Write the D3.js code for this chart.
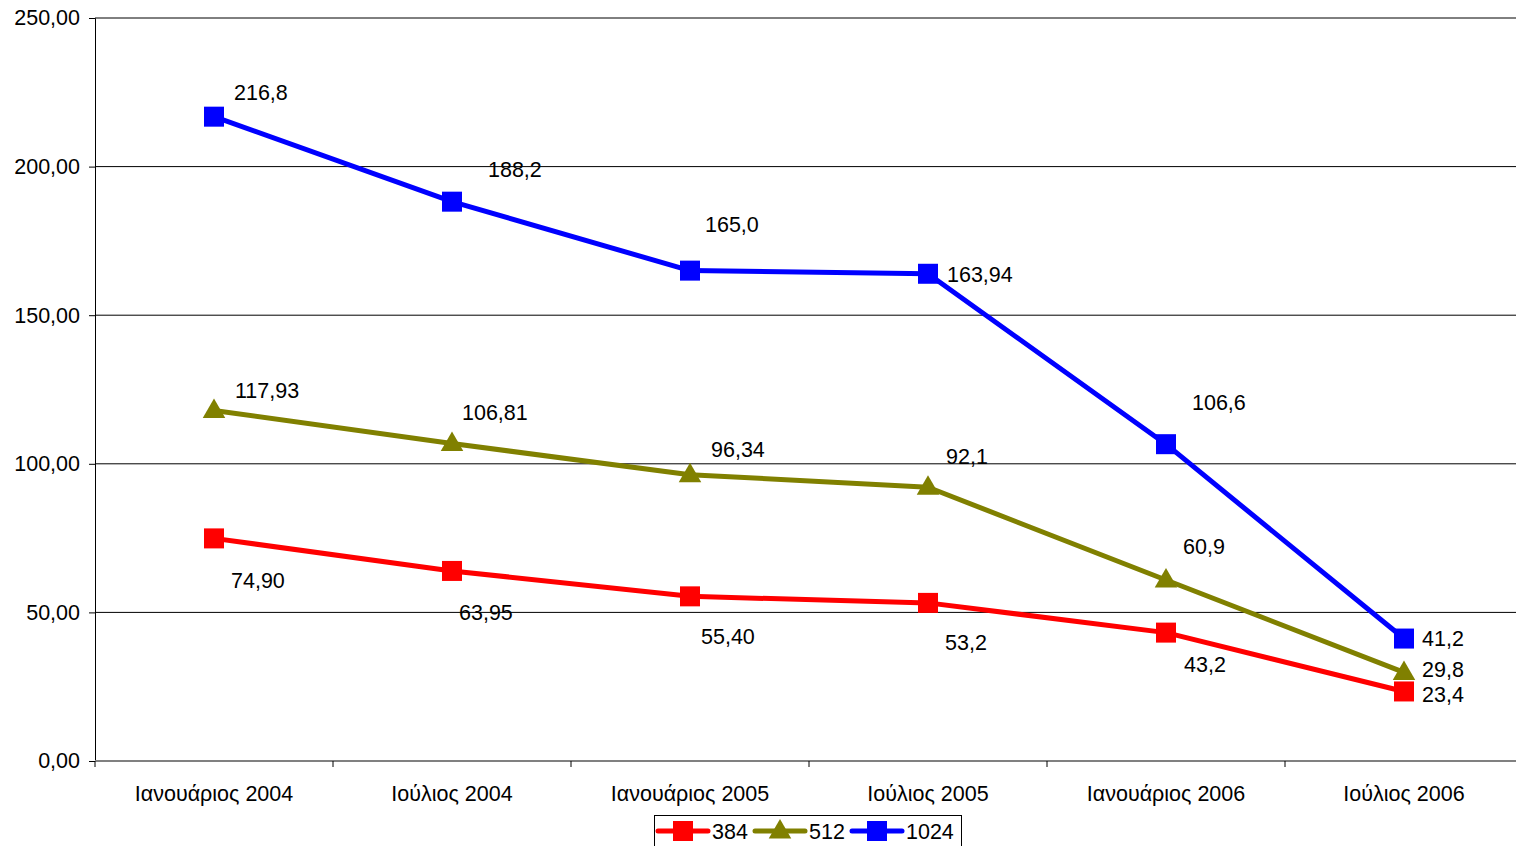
<!DOCTYPE html>
<html>
<head>
<meta charset="utf-8">
<script src="https://cdn.jsdelivr.net/npm/d3@7"></script>
<style>
  html, body { margin: 0; padding: 0; background: #fff; }
  svg { display: block; font-family: "Liberation Sans", Arial, sans-serif; }
</style>
</head>
<body>
<svg id="chart" width="1516" height="846"></svg>
<script>
// Periods on the category axis
const categories = ["Ιανουάριος 2004", "Ιούλιος 2004", "Ιανουάριος 2005", "Ιούλιος 2005", "Ιανουάριος 2006", "Ιούλιος 2006"];

// Series values (one per period)
const values384  = [74.90, 63.95, 55.40, 53.2, 43.2, 23.4];
const values512  = [117.93, 106.81, 96.34, 92.1, 60.9, 29.8];
const values1024 = [216.8, 188.2, 165.0, 163.94, 106.6, 41.2];

// Printed data labels
const labels384  = ["74,90", "63,95", "55,40", "53,2", "43,2", "23,4"];
const labels512  = ["117,93", "106,81", "96,34", "92,1", "60,9", "29,8"];
const labels1024 = ["216,8", "188,2", "165,0", "163,94", "106,6", "41,2"];

// Y axis ticks
const yTicks = [0, 50, 100, 150, 200, 250];

// Label placement offsets relative to each marker (layout only)
const offsets384  = [[17, 42], [7, 41], [11, 40], [17, 39], [18, 32], [18, 3]];
const offsets512  = [[21, -20], [10, -31], [21, -25], [18, -31], [17, -34], [18, -3]];
const offsets1024 = [[20, -24], [36, -32], [15, -46], [19, 0], [26, -42], [18, 0]];

const series = [
  { name: "384",  values: values384,  labels: labels384,  offsets: offsets384,  color: "#ff0000", marker: "square" },
  { name: "512",  values: values512,  labels: labels512,  offsets: offsets512,  color: "#808000", marker: "triangle" },
  { name: "1024", values: values1024, labels: labels1024, offsets: offsets1024, color: "#0000ff", marker: "square" }
];

const FONT = 21.5;
const svg = d3.select("#chart");
const plot = { left: 95, right: 1523, top: 18, bottom: 761 };

const x = d3.scaleBand().domain(categories).range([plot.left, plot.right]);
const y = d3.scaleLinear().domain([0, 250]).range([plot.bottom, plot.top]);
const fmt = d => d3.format(".2f")(d).replace(".", ",");
const cx = c => x(c) + x.bandwidth() / 2;

// Horizontal gridlines
svg.append("g").selectAll("line").data(yTicks.filter(t => t > 0)).join("line")
  .attr("x1", plot.left).attr("x2", plot.right)
  .attr("y1", d => y(d)).attr("y2", d => y(d))
  .attr("stroke", "#000").attr("stroke-width", 1);

// Y axis
const yAxis = svg.append("g").attr("transform", `translate(${plot.left},0)`)
  .call(d3.axisLeft(y).tickValues(yTicks).tickFormat(fmt).tickSize(6).tickPadding(9));
yAxis.select(".domain").attr("stroke", "#000");
yAxis.selectAll(".tick line").attr("stroke", "#000");
yAxis.selectAll(".tick text").attr("font-size", FONT).attr("fill", "#000")
  .attr("font-family", "'Liberation Sans', Arial, sans-serif");

// X axis with tick marks at category boundaries
const xAxisG = svg.append("g").attr("transform", `translate(0,${plot.bottom})`);
xAxisG.append("line").attr("x1", plot.left).attr("x2", plot.right)
  .attr("stroke", "#808080").attr("stroke-width", 2);
xAxisG.selectAll("line.tk").data(categories).join("line").attr("class", "tk")
  .attr("x1", d => x(d)).attr("x2", d => x(d)).attr("y1", 0).attr("y2", 6)
  .attr("stroke", "#000");
xAxisG.selectAll("text").data(categories).join("text")
  .attr("x", d => cx(d)).attr("y", 40)
  .attr("text-anchor", "middle").attr("font-size", FONT).attr("fill", "#000")
  .text(d => d);

// Lines, markers and data labels
const line = d3.line().x((d, i) => cx(categories[i])).y(d => y(d));
const tri = d3.symbol().type(d3.symbolTriangle).size(220);

function drawMarker(g, type, color, px, py) {
  if (type === "square") {
    g.append("rect").attr("x", px - 10).attr("y", py - 10).attr("width", 20).attr("height", 20).attr("fill", color);
  } else {
    g.append("path").attr("d", tri).attr("transform", `translate(${px},${py + 1})`).attr("fill", color);
  }
}

series.forEach(s => {
  svg.append("path").datum(s.values).attr("d", line)
    .attr("fill", "none").attr("stroke", s.color).attr("stroke-width", 5).attr("stroke-linejoin", "round");
});
series.forEach(s => {
  const g = svg.append("g");
  s.values.forEach((v, i) => drawMarker(g, s.marker, s.color, cx(categories[i]), y(v)));
});
series.forEach(s => {
  svg.append("g").selectAll("text").data(s.values).join("text")
    .attr("x", (v, i) => cx(categories[i]) + s.offsets[i][0])
    .attr("y", (v, i) => y(v) + s.offsets[i][1])
    .attr("dy", "0.36em").attr("font-size", FONT).attr("fill", "#000")
    .text((v, i) => s.labels[i]);
});

// Legend
const legend = svg.append("g");
legend.append("rect").attr("x", 654.5).attr("y", 815.5).attr("width", 307).attr("height", 40)
  .attr("fill", "#fff").attr("stroke", "#000").attr("stroke-width", 1);
const legendX = [658, 755, 852];
series.forEach((s, i) => {
  const lx = legendX[i], ly = 831;
  legend.append("line").attr("x1", lx).attr("x2", lx + 50).attr("y1", ly).attr("y2", ly)
    .attr("stroke", s.color).attr("stroke-width", 5).attr("stroke-linecap", "round");
  drawMarker(legend, s.marker, s.color, lx + 25, ly);
  legend.append("text").attr("x", lx + 54).attr("y", ly).attr("dy", "0.36em")
    .attr("font-size", FONT).attr("fill", "#000").text(s.name);
});
</script>
</body>
</html>
